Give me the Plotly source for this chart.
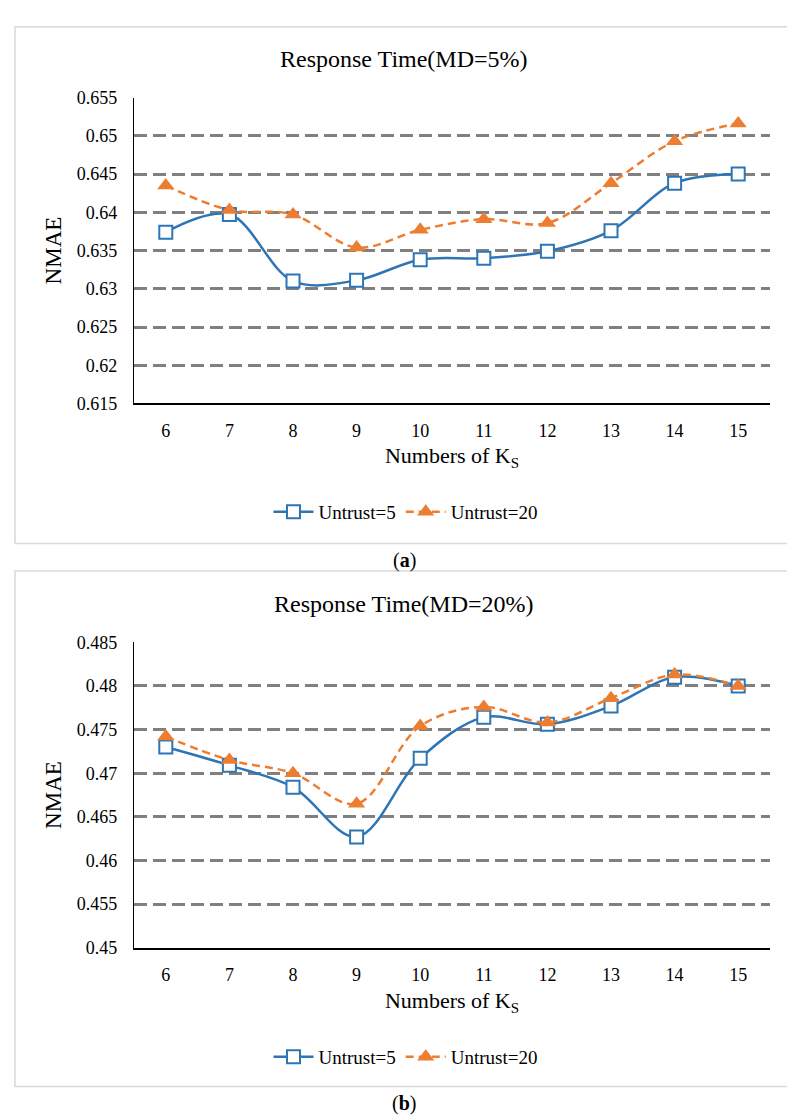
import plotly.graph_objects as go

# ---- data ----
ks = [6, 7, 8, 9, 10, 11, 12, 13, 14, 15]
a_untrust5 = [0.6374, 0.6397, 0.6310, 0.6311, 0.6338, 0.6340, 0.6349, 0.6376, 0.6438, 0.6450]
a_untrust20 = [0.6435, 0.6403, 0.6397, 0.6354, 0.6377, 0.6391, 0.6386, 0.6438, 0.6493, 0.6516]
b_untrust5 = [0.4730, 0.4709, 0.4684, 0.4627, 0.4717, 0.4764, 0.4756, 0.4777, 0.4810, 0.4800]
b_untrust20 = [0.4742, 0.4715, 0.4700, 0.4665, 0.4754, 0.4776, 0.4758, 0.4786, 0.4813, 0.4800]
a_ticks = [0.615, 0.62, 0.625, 0.63, 0.635, 0.64, 0.645, 0.65, 0.655]
a_ticktext = ["0.615", "0.62", "0.625", "0.63", "0.635", "0.64", "0.645", "0.65", "0.655"]
b_ticks = [0.45, 0.455, 0.46, 0.465, 0.47, 0.475, 0.48, 0.485]
b_ticktext = ["0.45", "0.455", "0.46", "0.465", "0.47", "0.475", "0.48", "0.485"]
titles = ["Response Time(MD=5%)", "Response Time(MD=20%)"]
series_names = ["Untrust=5", "Untrust=20"]
panel_letters = ["a", "b"]

W, H = 795, 1119
BLUE = "#2E75B6"
ORANGE = "#ED7D31"
FONT = "Liberation Serif"

def py(px):
    return 1 - px / H

fig = go.Figure()

def add_pair(xa, ya, legend, y5, y20):
    fig.add_trace(go.Scatter(
        x=ks, y=y5, name=series_names[0], xaxis=xa, yaxis=ya, legend=legend,
        mode="lines+markers", line=dict(color=BLUE, width=2.5, shape="spline"),
        marker=dict(symbol="square", size=13, color="white", line=dict(color=BLUE, width=2)),
    ))
    fig.add_trace(go.Scatter(
        x=ks, y=y20, name=series_names[1], xaxis=xa, yaxis=ya, legend=legend,
        mode="lines+markers", line=dict(color=ORANGE, width=2.5, shape="spline", dash="8px,5px"),
        marker=dict(symbol="triangle-up", size=15, color=ORANGE),
    ))

add_pair("x", "y", "legend", a_untrust5, a_untrust20)
add_pair("x2", "y2", "legend2", b_untrust5, b_untrust20)

xdom = [126 / W, 762 / W]
xtitle = "Numbers of K<span style='font-size:15px;baseline-shift:-5px'>S</span>"
common_x = dict(
    range=[5.5, 15.5], tickvals=ks, showgrid=False, showline=True, linecolor="black",
    linewidth=2, ticks="", zeroline=False, tickfont=dict(family=FONT, size=18, color="#000"),
    ticklabelstandoff=10, domain=xdom,
    title=dict(text=xtitle, font=dict(family=FONT, size=22, color="#000"), standoff=8),
)
common_y = dict(
    showgrid=True, gridcolor="#808080", gridwidth=2.5, griddash="13px,6px",
    showline=True, linecolor="black", linewidth=1.2, ticks="", zeroline=False,
    tickfont=dict(family=FONT, size=18, color="#000"), ticklabelstandoff=12,
    title=dict(text="NMAE", font=dict(family=FONT, size=23, color="#000"), standoff=8),
)

legend_style = dict(orientation="h", x=0.5, xanchor="center", yanchor="middle",
                    font=dict(family=FONT, size=19, color="#000"), itemwidth=40,
                    bgcolor="rgba(0,0,0,0)")

fig.update_layout(
    width=W, height=H, margin=dict(l=0, r=0, t=0, b=0),
    paper_bgcolor="white", plot_bgcolor="white",
    xaxis=dict(common_x, anchor="y"),
    yaxis=dict(common_y, anchor="x", range=[0.615, 0.655], tickvals=a_ticks, ticktext=a_ticktext,
               domain=[py(392.5), py(81)]),
    xaxis2=dict(common_x, anchor="y2"),
    yaxis2=dict(common_y, anchor="x2", range=[0.45, 0.485], tickvals=b_ticks, ticktext=b_ticktext,
                domain=[py(946.6), py(635.7)]),
    legend=dict(legend_style, y=py(503)),
    legend2=dict(legend_style, y=py(1057.7)),
    showlegend=True,
)

# chart titles and panel labels
for t, ypx in zip(titles, [42, 597]):
    fig.add_annotation(text=t, x=396 / W, y=py(ypx), xref="paper", yref="paper",
                       showarrow=False, xanchor="center", yanchor="middle",
                       font=dict(family=FONT, size=24, color="#000"))
for letter, ypx in zip(panel_letters, [552, 1105]):
    fig.add_annotation(text="(<b>" + letter + "</b>)",
                       x=396 / W, y=py(ypx), xref="paper", yref="paper",
                       showarrow=False, xanchor="center", yanchor="middle",
                       font=dict(family=FONT, size=20, color="#000"))

# chart-area borders
for y0, y1 in [(9, 535), (563, 1088)]:
    fig.add_shape(type="rect", xref="paper", yref="paper", x0=7 / W, x1=786 / W,
                  y0=py(y1), y1=py(y0), line=dict(color="#d9d9d9", width=1.5), layer="below")

fig.write_html("out.html")
